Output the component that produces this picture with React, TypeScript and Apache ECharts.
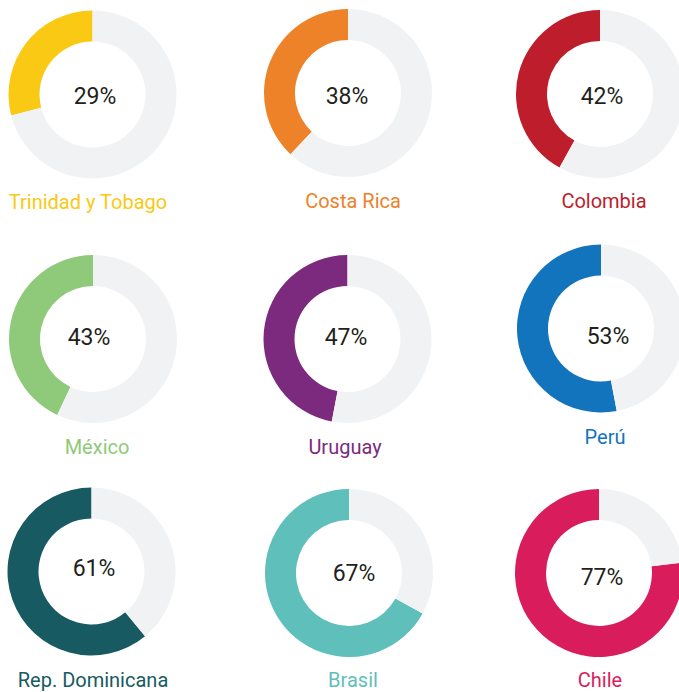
import React, { useEffect, useRef } from "react";
import * as echarts from "echarts";

const countries = [
  "Trinidad y Tobago",
  "Costa Rica",
  "Colombia",
  "México",
  "Uruguay",
  "Perú",
  "Rep. Dominicana",
  "Brasil",
  "Chile",
];
const values = [29, 38, 42, 43, 47, 53, 61, 67, 77];
const colors = [
  "#F9C914",
  "#EE8229",
  "#BE1D2C",
  "#8FC97A",
  "#7B2A7E",
  "#1174BC",
  "#175A62",
  "#5FBFBA",
  "#D91D5C",
];
const restColor = "#F1F2F4";

// layout (pixel positions of each donut, its percentage and its name)
const centers: [number, number][] = [
  [92.5, 94.5], [348, 93], [600, 94],
  [93, 339], [347.5, 339], [601, 328.5],
  [91.5, 571.5], [349, 573], [599, 573],
];
const pctPos: [number, number][] = [
  [95, 96], [347, 96], [602, 96],
  [89, 337], [346, 337], [608, 336],
  [94, 568], [354, 573], [602, 577],
];
const namePos: [number, number][] = [
  [88, 202], [353, 201], [604, 201],
  [97, 447], [345, 447], [605, 437],
  [93, 680], [353, 680], [600, 680],
];

export default function App() {
  const ref = useRef<HTMLDivElement>(null);
  useEffect(() => {
    if (!ref.current) return;
    const chart = echarts.init(ref.current, undefined, { renderer: "svg" });
    const series = values.map((v, i) => ({
      type: "pie",
      center: centers[i],
      radius: [53, 84],
      startAngle: 90,
      clockwise: false,
      silent: true,
      label: { show: false },
      labelLine: { show: false },
      emphasis: { disabled: true },
      data: [
        { name: countries[i], value: v, itemStyle: { color: colors[i] } },
        { name: "rest", value: 100 - v, itemStyle: { color: restColor } },
      ],
    }));
    const graphics: any[] = [];
    values.forEach((v, i) => {
      graphics.push({
        type: "text",
        x: pctPos[i][0],
        y: pctPos[i][1],
        silent: true,
        style: {
          text: v + "%",
          align: "center",
          verticalAlign: "middle",
          fontFamily: "Roboto",
          fontSize: 23,
          fill: "#231F20",
        },
      });
      graphics.push({
        type: "text",
        x: namePos[i][0],
        y: namePos[i][1],
        silent: true,
        style: {
          text: countries[i],
          align: "center",
          verticalAlign: "middle",
          fontFamily: "Roboto",
          fontSize: 20,
          fill: colors[i],
        },
      });
    });
    chart.setOption({
      animation: false,
      backgroundColor: "#ffffff",
      series,
      graphic: graphics,
    });
    return () => chart.dispose();
  }, []);
  return (
    <div
      ref={ref}
      style={{ position: "fixed", left: 0, top: 0, width: 679, height: 692 }}
    />
  );
}
